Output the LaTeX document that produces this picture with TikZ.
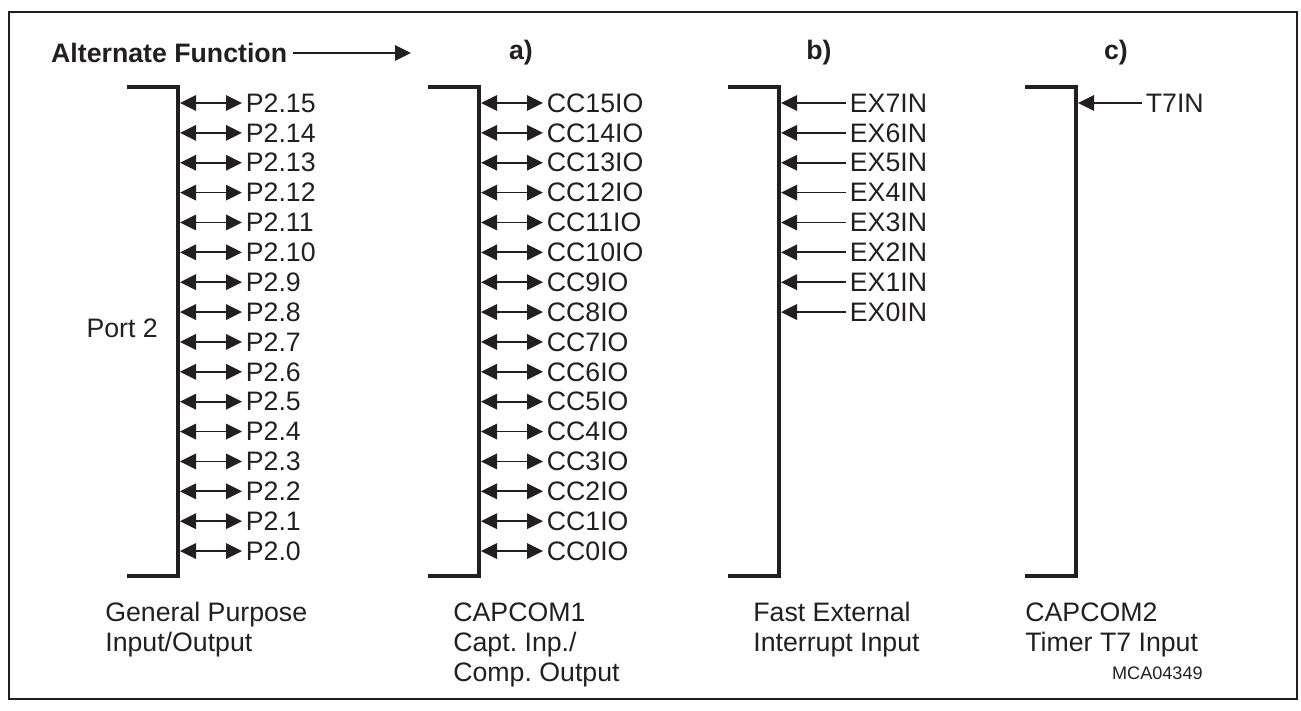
\documentclass[tikz,border=0pt]{standalone}
\usepackage{fontspec}
\setmainfont{Liberation Sans}
\frenchspacing
\usetikzlibrary{arrows.meta}
\definecolor{ink}{HTML}{231F20}
\tikzset{
    x=0.02cm, y=-0.02cm,
    every node/.append style={font=\fontsize{15.2}{17}\selectfont, text=ink},
    boxframe/.style={line width=1.1pt, ink},
    bracket/.style={line width=2pt, ink},
    bidir/.style={{Triangle[length=0.32cm,width=0.31cm]}-{Triangle[length=0.32cm,width=0.31cm]}, line width=1pt, ink},
    input/.style={-{Triangle[length=0.32cm,width=0.31cm]}, line width=1pt, ink},
    sigtext/.style={anchor=west, inner sep=2pt},
    header/.style={font=\bfseries\fontsize{15.2}{17}\selectfont},
    caption/.style={anchor=base west, align=left, inner sep=0pt, font=\fontsize{15.2}{17}\selectfont}
}

\begin{document}
\begin{tikzpicture}
\useasboundingbox (0,0) rectangle (1301,710);
\draw[boxframe] (9,12) rectangle (1297,699);

\node[header, anchor=west] (alt) at (45,53) {Alternate Function};
\coordinate (altend) at (411,53);
\draw[input] (alt) -- (altend);
\node[header] (hda) at (521,53) {a)};
\node[header] (hdb) at (819,53) {b)};
\node[header] (hdc) at (1116,53) {c)};

% brackets
\foreach \bx in {178,479,779,1076}
    \draw[bracket] (\bx-51,87) -- (\bx,87) -- (\bx,576) -- (\bx-51,576);

\node[anchor=east] (port) at (164,328) {Port 2};

% port 2 and capcom1 pins
\foreach \k in {0,...,15} {
    \pgfmathtruncatemacro\n{15-\k}
    \pgfmathsetmacro\ry{103+29.87*\k}
    \coordinate (pa\n) at (180,\ry);
    \node[sigtext] (p\n) at (242,\ry) {P2.\n};
    \draw[bidir] (pa\n) -- (p\n.west);
    \coordinate (ca\n) at (481,\ry);
    \node[sigtext] (cc\n) at (543,\ry) {CC\n{}IO};
    \draw[bidir] (ca\n) -- (cc\n.west);
}

% fast external interrupts
\foreach \k in {0,...,7} {
    \pgfmathtruncatemacro\n{7-\k}
    \pgfmathsetmacro\ry{103+29.87*\k}
    \coordinate (ea\n) at (781,\ry);
    \node[sigtext] (ex\n) at (846,\ry) {EX\n{}IN};
    \draw[input] (ex\n.west) -- (ea\n);
}

\coordinate (ta) at (1078,103);
\node[sigtext] (t7) at (1142,103) {T7IN};
\draw[input] (t7.west) -- (ta);

% captions, anchored at the last baseline
\node[caption] (capgp) at (105,651) {General Purpose\\Input/Output};
\node[caption] (capa) at (453,681) {CAPCOM1\\Capt. Inp./\\Comp. Output};
\node[caption] (capb) at (753,651) {Fast External\\Interrupt Input};
\node[caption] (capc) at (1025,651) {CAPCOM2\\Timer T7 Input};
\node[anchor=base east, inner sep=0pt, font=\fontsize{10.3}{12}\selectfont] (mca) at (1203,679) {MCA04349};
\end{tikzpicture}
\end{document}
